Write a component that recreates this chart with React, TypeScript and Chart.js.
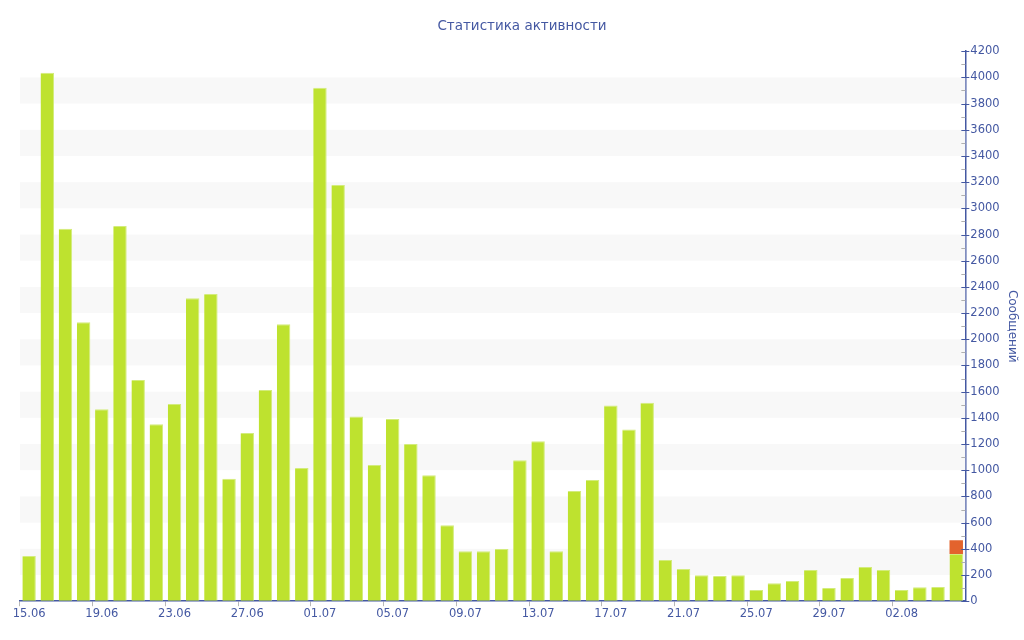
import { useEffect, useRef } from "react"
import { Chart, registerables } from "chart.js"

Chart.register(...registerables)

const days = [
  "15.06", "16.06", "17.06", "18.06", "19.06", "20.06", "21.06", "22.06", "23.06", "24.06",
  "25.06", "26.06", "27.06", "28.06", "29.06", "30.06", "01.07", "02.07", "03.07", "04.07",
  "05.07", "06.07", "07.07", "08.07", "09.07", "10.07", "11.07", "12.07", "13.07", "14.07",
  "15.07", "16.07", "17.07", "18.07", "19.07", "20.07", "21.07", "22.07", "23.07", "24.07",
  "25.07", "26.07", "27.07", "28.07", "29.07", "30.07", "31.07", "01.08", "02.08", "03.08",
  "04.08", "05.08",
]

const mainValues = [
  345, 4035, 2845, 2130, 1466, 2865, 1690, 1352, 1505, 2313,
  2345, 935, 1285, 1612, 2115, 1018, 3920, 3178, 1410, 1040,
  1392, 1200, 962, 580, 382, 382, 398, 1076, 1222, 382,
  842, 926, 1495, 1312, 1516, 314, 246, 198, 192, 198,
  86, 138, 155, 238, 100, 178, 262, 238, 86, 107,
  108, 360,
]

const extraValues = [
  0, 0, 0, 0, 0, 0, 0, 0, 0, 0,
  0, 0, 0, 0, 0, 0, 0, 0, 0, 0,
  0, 0, 0, 0, 0, 0, 0, 0, 0, 0,
  0, 0, 0, 0, 0, 0, 0, 0, 0, 0,
  0, 0, 0, 0, 0, 0, 0, 0, 0, 0,
  0, 105,
]

const yMax = 4200
const blue = "#4458a2"
const font = "'DejaVu Sans', Verdana, sans-serif"

// light grey stripes between every other pair of labelled ticks
const bandsPlugin = {
  id: "bands",
  beforeDatasetsDraw(chart: any) {
    const { ctx, chartArea } = chart
    const y = chart.scales.y
    ctx.save()
    ctx.fillStyle = "#f8f8f8"
    for (let v = 200; v < yMax; v += 400) {
      const top = y.getPixelForValue(v + 200)
      const bottom = y.getPixelForValue(v)
      ctx.fillRect(chartArea.left, top, chartArea.right - chartArea.left, bottom - top)
    }
    ctx.restore()
  },
}

// major / minor tick marks on the right axis
const yTicksPlugin = {
  id: "yTicks",
  afterDraw(chart: any) {
    const { ctx } = chart
    const y = chart.scales.y
    const x = y.left
    ctx.save()
    ctx.lineWidth = 1
    for (let v = 0; v <= yMax; v += 100) {
      const py = Math.round(y.getPixelForValue(v)) + 0.5
      ctx.beginPath()
      if (v % 200 === 0) {
        ctx.strokeStyle = blue
        ctx.moveTo(x - 4, py)
        ctx.lineTo(x + 4, py)
      } else {
        ctx.strokeStyle = "#b0b0b0"
        ctx.moveTo(x - 4, py)
        ctx.lineTo(x, py)
      }
      ctx.stroke()
    }
    ctx.restore()
  },
}

export default function App() {
  const chartRef = useRef<HTMLCanvasElement>(null)
  const chartInstance = useRef<Chart | null>(null)

  useEffect(() => {
    if (!chartRef.current) return

    if (chartInstance.current) {
      chartInstance.current.destroy()
    }

    const ctx = chartRef.current.getContext("2d")
    if (!ctx) return

    chartInstance.current = new Chart(ctx, {
      type: "bar",
      data: {
        labels: days,
        datasets: [
          {
            label: "Сообщения",
            data: mainValues,
            backgroundColor: "#bee22f",
            borderColor: "#d3ec7c",
            borderWidth: { top: 1, left: 0, right: 1, bottom: 0 },
            barPercentage: 0.74,
            categoryPercentage: 1,
          },
          {
            label: "Другие",
            data: extraValues,
            backgroundColor: "#e3632d",
            borderWidth: 0,
            barPercentage: 0.74,
            categoryPercentage: 1,
          },
        ],
      },
      options: {
        responsive: true,
        maintainAspectRatio: false,
        animation: false,
        layout: {
          padding: { left: 20, right: 0, top: 0, bottom: 18 },
        },
        scales: {
          x: {
            stacked: true,
            grid: {
              drawOnChartArea: false,
              tickLength: 5,
              tickColor: (c: any) => (c.index % 4 === 0 ? "#b8b8b8" : "rgba(0,0,0,0)"),
            },
            border: { color: blue, width: 1.5 },
            ticks: {
              autoSkip: false,
              maxRotation: 0,
              color: blue,
              font: { family: font, size: 11.5 },
              padding: 1,
              callback: (_v: any, i: number) => (i % 4 === 0 ? days[i] : ""),
            },
          },
          y: {
            stacked: true,
            position: "right",
            min: 0,
            max: yMax,
            grid: { drawOnChartArea: false, drawTicks: false },
            border: { color: blue, width: 1.5 },
            ticks: {
              stepSize: 100,
              autoSkip: false,
              color: blue,
              padding: 5,
              font: { family: font, size: 11.5 },
              callback: (v: any) => (Number(v) % 200 === 0 ? String(v) : ""),
            },
            title: {
              display: true,
              text: "Сообщений",
              color: blue,
              font: { family: font, size: 12 },
              padding: { top: 5, bottom: 0 },
            },
          },
        },
        plugins: {
          legend: { display: false },
          tooltip: { enabled: false },
          title: {
            display: true,
            text: "Статистика активности",
            color: blue,
            font: { family: font, size: 13.5, weight: "normal" },
            padding: { top: 18, bottom: 17 },
          },
        },
      },
      plugins: [bandsPlugin, yTicksPlugin],
    })

    return () => {
      if (chartInstance.current) {
        chartInstance.current.destroy()
      }
    }
  }, [])

  return (
    <div style={{ position: "fixed", left: 0, top: 0, width: 1024, height: 640, background: "#fff" }}>
      <canvas ref={chartRef}></canvas>
    </div>
  )
}
